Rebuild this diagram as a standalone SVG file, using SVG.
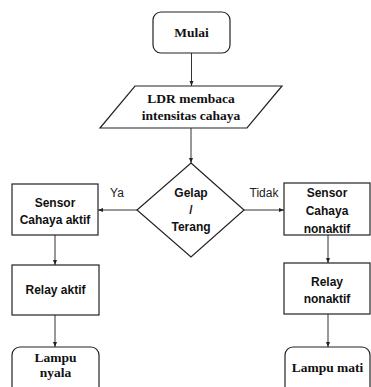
<svg xmlns="http://www.w3.org/2000/svg" width="371" height="387" viewBox="0 0 371 387">
<style>
.shape{fill:#fff;stroke:#222;stroke-width:1.2}
.conn{stroke:#333;stroke-width:1;fill:none;marker-end:url(#ah)}
.serif{font-family:"Liberation Serif","Times New Roman",serif;font-weight:bold;font-size:13.5px;fill:#111;text-anchor:middle}
.sans{font-family:"Liberation Sans",Arial,sans-serif;font-weight:bold;font-size:12px;fill:#111;text-anchor:middle}
.lbl{font-family:"Liberation Sans",Arial,sans-serif;font-size:12px;fill:#222;text-anchor:middle}
</style>
<defs>
<marker id="ah" viewBox="0 0 10 10" refX="10" refY="5" markerWidth="5" markerHeight="5" orient="auto" markerUnits="userSpaceOnUse">
<path d="M0,1 L10,5 L0,9 z" fill="#222"/>
</marker>
</defs>
<rect width="371" height="387" fill="#fff"/>
<g id="connectors">
<line class="conn" x1="191.5" y1="53" x2="191.5" y2="86"/>
<line class="conn" x1="191" y1="128" x2="191" y2="163"/>
<line class="conn" x1="137" y1="210" x2="98" y2="210"/>
<line class="conn" x1="244" y1="210" x2="284" y2="210"/>
<line class="conn" x1="55" y1="235" x2="55" y2="265"/>
<line class="conn" x1="55" y1="315" x2="55" y2="347"/>
<line class="conn" x1="328" y1="235" x2="328" y2="263"/>
<line class="conn" x1="328" y1="314" x2="328" y2="347"/>
<text class="lbl" x="117" y="197">Ya</text>
<text class="lbl" x="264" y="197">Tidak</text>
</g>
<g id="mulai">
<rect class="shape" x="153" y="12" width="77" height="41" rx="8"/>
<text class="serif" x="191.5" y="37">Mulai</text>
</g>
<g id="ldr">
<polygon class="shape" points="135,86 282,86 247,128 100,128"/>
<text class="serif" x="191" y="103">LDR membaca</text>
<text class="serif" x="191" y="120">intensitas cahaya</text>
</g>
<g id="decision">
<polygon class="shape" points="191,163 244,210 191,257 137,210"/>
<text class="sans" x="191" y="197">Gelap</text>
<text class="sans" x="191" y="214">/</text>
<text class="sans" x="191" y="231">Terang</text>
</g>
<g id="sensor-aktif">
<rect class="shape" x="12" y="184" width="86" height="51"/>
<text class="sans" x="55" y="207">Sensor</text>
<text class="sans" x="55" y="224">Cahaya aktif</text>
</g>
<g id="sensor-nonaktif">
<rect class="shape" x="284" y="183" width="86" height="52"/>
<text class="sans" x="327" y="197">Sensor</text>
<text class="sans" x="327" y="215">Cahaya</text>
<text class="sans" x="327" y="233">nonaktif</text>
</g>
<g id="relay-aktif">
<rect class="shape" x="12" y="265" width="87" height="50"/>
<text class="sans" x="55.5" y="294">Relay aktif</text>
</g>
<g id="relay-nonaktif">
<rect class="shape" x="284" y="263" width="86" height="51"/>
<text class="sans" x="327" y="286">Relay</text>
<text class="sans" x="327" y="303">nonaktif</text>
</g>
<g id="lampu-nyala">
<rect class="shape" x="12" y="347" width="87" height="60" rx="8"/>
<text class="serif" x="55.5" y="362">Lampu</text>
<text class="serif" x="55.5" y="377">nyala</text>
</g>
<g id="lampu-mati">
<rect class="shape" x="285" y="347" width="85" height="60" rx="8"/>
<text class="serif" x="327.5" y="372">Lampu mati</text>
</g>
</svg>
